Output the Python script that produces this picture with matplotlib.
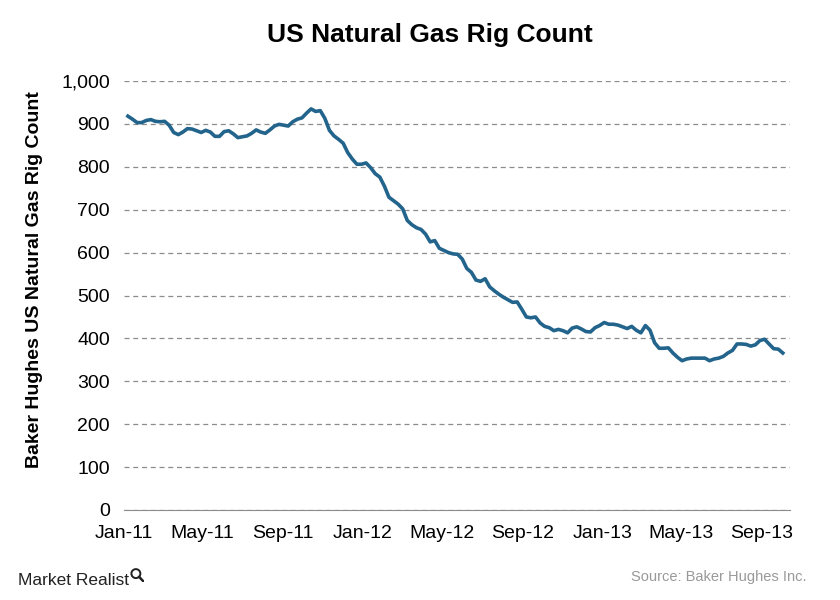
import numpy as np
import pandas as pd
import matplotlib.pyplot as plt
import matplotlib.dates as mdates
from matplotlib.ticker import FuncFormatter, MultipleLocator
from matplotlib.patches import Circle

# weekly gas rig counts (Jan-2011 .. Oct-2013)
rigs = [918, 911, 903, 903, 908, 910, 906, 905, 906, 897,
        880, 875, 881, 889, 888, 884, 880, 885, 881, 871,
        871, 882, 884, 877, 868, 870, 872, 878, 886, 881,
        878, 886, 895, 899, 897, 895, 905, 911, 914, 925,
        935, 929, 931, 913, 885, 872, 864, 855, 833, 818,
        806, 806, 809, 798, 784, 776, 755, 729, 721, 713,
        702, 675, 665, 658, 654, 643, 625, 628, 610, 605,
        600, 597, 596, 585, 563, 554, 536, 533, 539, 520,
        511, 503, 496, 490, 484, 485, 468, 450, 448, 450,
        436, 428, 425, 418, 421, 418, 413, 424, 427, 422,
        416, 415, 425, 430, 437, 433, 433, 431, 427, 423,
        428, 419, 413, 430, 419, 390, 377, 377, 378, 366,
        356, 348, 352, 354, 354, 354, 354, 348, 352, 354,
        358, 366, 372, 387, 387, 386, 382, 385, 395, 398,
        387, 376, 375, 366]
weeks = pd.date_range("2011-01-07", periods=len(rigs), freq="W-FRI")
tick_dates = pd.date_range("2011-01-01", "2013-09-01", freq="4MS")

plt.rcParams["font.family"] = ["Liberation Sans", "DejaVu Sans"]

fig = plt.figure(figsize=(8.4, 6), dpi=100)
ax = fig.add_axes([0.1476, 0.15, 0.7929, 0.715])

ax.plot(weeks, rigs, color="#23648c", lw=2.6, solid_joinstyle="round")

ax.set_ylim(0, 1000)
ax.set_xlim(pd.Timestamp("2011-01-01"), pd.Timestamp("2013-10-15"))
ax.yaxis.set_major_locator(MultipleLocator(100))
ax.yaxis.set_major_formatter(FuncFormatter(lambda v, p: f"{int(v):,}"))
ax.set_xticks(tick_dates)
ax.xaxis.set_major_formatter(mdates.DateFormatter("%b-%y"))

ax.grid(axis="y", color="#8c8c8c", ls=(0, (4, 3)), lw=0.9)
for s in ["top", "right", "left"]:
    ax.spines[s].set_visible(False)
ax.spines["bottom"].set_color("#8c8c8c")
ax.tick_params(length=0, labelsize=14, colors="black")
ax.tick_params(axis="y", pad=10)
ax.tick_params(axis="x", pad=11)

ax.set_ylabel("Baker Hughes US Natural Gas Rig Count", fontsize=14,
              fontweight="bold")
ax.yaxis.set_label_coords(-0.122, 0.536)
fig.suptitle("US Natural Gas Rig Count", x=0.512, y=0.962,
             fontsize=19, fontweight="bold")

fig.text(0.96, 0.038, "Source: Baker Hughes Inc.", ha="right", va="center",
         fontsize=10.5, color="#999999")
fig.text(0.022, 0.032, "Market Realist", ha="left", va="center",
         fontsize=12.5, color="#222222")

# small magnifier mark next to the logo text
lax = fig.add_axes([130 / 840, 1 - 582 / 600, 14 / 840, 14 / 600])
lax.set_xlim(0, 1)
lax.set_ylim(0, 1)
lax.axis("off")
lax.add_patch(Circle((0.42, 0.6), 0.32, fill=False, lw=1.4, color="#222222"))
lax.plot([0.66, 0.95], [0.36, 0.05], color="#222222", lw=1.8)

fig.savefig("out.png", dpi=100)
